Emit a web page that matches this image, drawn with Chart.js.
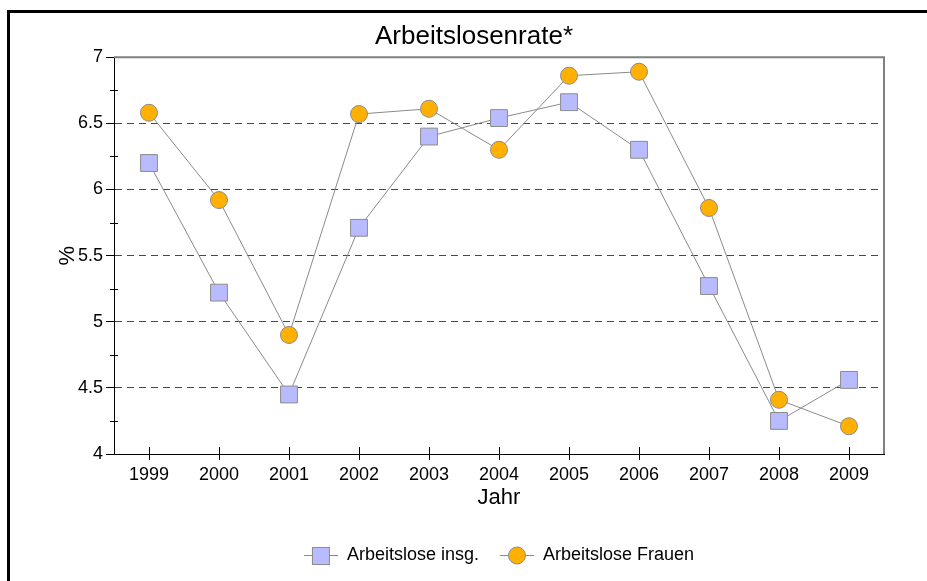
<!DOCTYPE html>
<html>
<head>
<meta charset="utf-8">
<script src="https://cdn.jsdelivr.net/npm/chart.js@4.4.1/dist/chart.umd.min.js"></script>
<style>
  html, body { margin: 0; padding: 0; background: #fff; }
  #wrap { width: 927px; height: 581px; position: relative; }
</style>
</head>
<body>
<div id="wrap"><canvas id="chartRate"></canvas></div>
<script>
const jahre = ['1999', '2000', '2001', '2002', '2003', '2004', '2005', '2006', '2007', '2008', '2009'];
const insgesamt = [6.20, 5.22, 4.45, 5.71, 6.40, 6.54, 6.66, 6.30, 5.27, 4.25, 4.56];
const frauen = [6.58, 5.92, 4.90, 6.57, 6.61, 6.30, 6.86, 6.89, 5.86, 4.41, 4.21];
const serienNamen = ['Arbeitslose insg.', 'Arbeitslose Frauen'];
const yMin = 4, yMax = 7, yStep = 0.5;

const schrift = "'Liberation Sans', Arial, sans-serif";
const linienFarbe = '#8a8a8a';
const randFarbe = '#8c8c8c';
const farbeInsg = '#b8bbff';
const farbeFrauen = '#ffb000';

// kleines Bild fuer die Legende: Linie mit Marker in der Mitte
function legendBild(form, fuellung) {
    const c = document.createElement('canvas');
    c.width = 34; c.height = 20;
    const g = c.getContext('2d');
    g.strokeStyle = linienFarbe; g.lineWidth = 1;
    g.beginPath(); g.moveTo(0, 10.5); g.lineTo(34, 10.5); g.stroke();
    g.fillStyle = fuellung; g.strokeStyle = randFarbe;
    if (form === 'rect') {
        g.fillRect(8.5, 2.5, 17, 17); g.strokeRect(8.5, 2.5, 17, 17);
    } else {
        g.beginPath(); g.arc(17, 10.5, 8.5, 0, 2 * Math.PI); g.fill(); g.stroke();
    }
    return c;
}

const rahmenPlugin = {
    id: 'rahmen',
    beforeDraw(chart) {
        const ctx = chart.ctx;
        ctx.save();
        ctx.fillStyle = '#000';
        ctx.fillRect(7, 10, chart.width, 3);
        ctx.fillRect(7, 10, 3, chart.height);
        ctx.restore();
    },
    beforeDatasetsDraw(chart) {
        const {ctx, chartArea: a, scales: {x, y}} = chart;
        ctx.save();
        ctx.strokeStyle = '#808080'; ctx.lineWidth = 2;
        ctx.beginPath();
        ctx.moveTo(a.left, a.top); ctx.lineTo(a.right, a.top); ctx.lineTo(a.right, a.bottom);
        ctx.stroke();
        ctx.strokeStyle = '#000'; ctx.lineWidth = 1;
        ctx.beginPath();
        x.ticks.forEach((t, i) => {
            const px = Math.round(x.getPixelForTick(i)) + 0.5;
            ctx.moveTo(px, a.bottom - 7); ctx.lineTo(px, a.bottom);
        });
        for (let v = yMin + yStep / 2; v < yMax; v += yStep) {
            const py = Math.round(y.getPixelForValue(v)) + 0.5;
            ctx.moveTo(a.left - 4, py); ctx.lineTo(a.left + 4, py);
        }
        ctx.stroke();
        ctx.restore();
    }
};

const bilder = [legendBild('rect', farbeInsg), legendBild('circle', farbeFrauen)];

Chart.defaults.color = '#000';

new Chart(document.getElementById('chartRate'), {
    type: 'line',
    data: {
        labels: jahre,
        datasets: [
            { label: serienNamen[0], data: insgesamt, borderColor: linienFarbe, borderWidth: 1,
              pointStyle: 'rect', pointRadius: 11.9, pointBackgroundColor: farbeInsg,
              pointBorderColor: randFarbe, pointBorderWidth: 1 },
            { label: serienNamen[1], data: frauen, borderColor: linienFarbe, borderWidth: 1,
              pointStyle: 'circle', pointRadius: 8.5, pointBackgroundColor: farbeFrauen,
              pointBorderColor: randFarbe, pointBorderWidth: 1 }
        ]
    },
    options: {
        responsive: true,
        maintainAspectRatio: false,
        animation: false,
        events: [],
        layout: { padding: { left: 21, right: 0, top: 0, bottom: 7 } },
        scales: {
            x: {
                offset: true,
                grid: { drawOnChartArea: false, offset: false, tickLength: 6, color: '#000', tickColor: '#000' },
                border: { color: '#000', width: 1 },
                ticks: { font: { family: schrift, size: 18 }, padding: 4, maxRotation: 0, autoSkip: false },
                title: { display: true, text: 'Jahr', font: { family: schrift, size: 22 }, padding: { top: 0, bottom: 14 } },
                afterFit: s => { s.height = 71; }
            },
            y: {
                min: yMin, max: yMax,
                grid: {
                    color: c => (c.tick && (c.tick.value === yMin || c.tick.value === yMax)) ? 'rgba(0,0,0,0)' : '#484848',
                    tickColor: '#000', tickLength: 8, lineWidth: 1
                },
                border: { color: '#000', width: 1, dash: [7, 5] },
                ticks: { stepSize: yStep, font: { family: schrift, size: 18 }, padding: 3, callback: v => String(v) },
                title: { display: true, text: '%', font: { family: schrift, size: 22 }, padding: { top: 34, bottom: 0 } },
                afterFit: s => { s.width = 93; }
            },
            rechts: {
                type: 'linear', position: 'right',
                grid: { display: false, drawTicks: false }, border: { display: false }, ticks: { display: false },
                afterFit: s => { s.width = 43; }
            }
        },
        plugins: {
            title: { display: true, text: 'Arbeitslosenrate*', font: { family: schrift, size: 26, weight: 'normal' },
                     padding: { top: 21, bottom: 5 } },
            legend: {
                position: 'bottom',
                fullSize: false,
                labels: {
                    usePointStyle: true,
                    pointStyleWidth: 34,
                    padding: 21,
                    font: { family: schrift, size: 18 },
                    generateLabels: chart => chart.data.datasets.map((d, i) => ({
                        text: d.label, pointStyle: bilder[i], fillStyle: 'transparent',
                        strokeStyle: 'transparent', lineWidth: 0, datasetIndex: i, fontColor: '#000'
                    }))
                }
            },
            tooltip: { enabled: false }
        }
    },
    plugins: [rahmenPlugin]
});
</script>
</body>
</html>
